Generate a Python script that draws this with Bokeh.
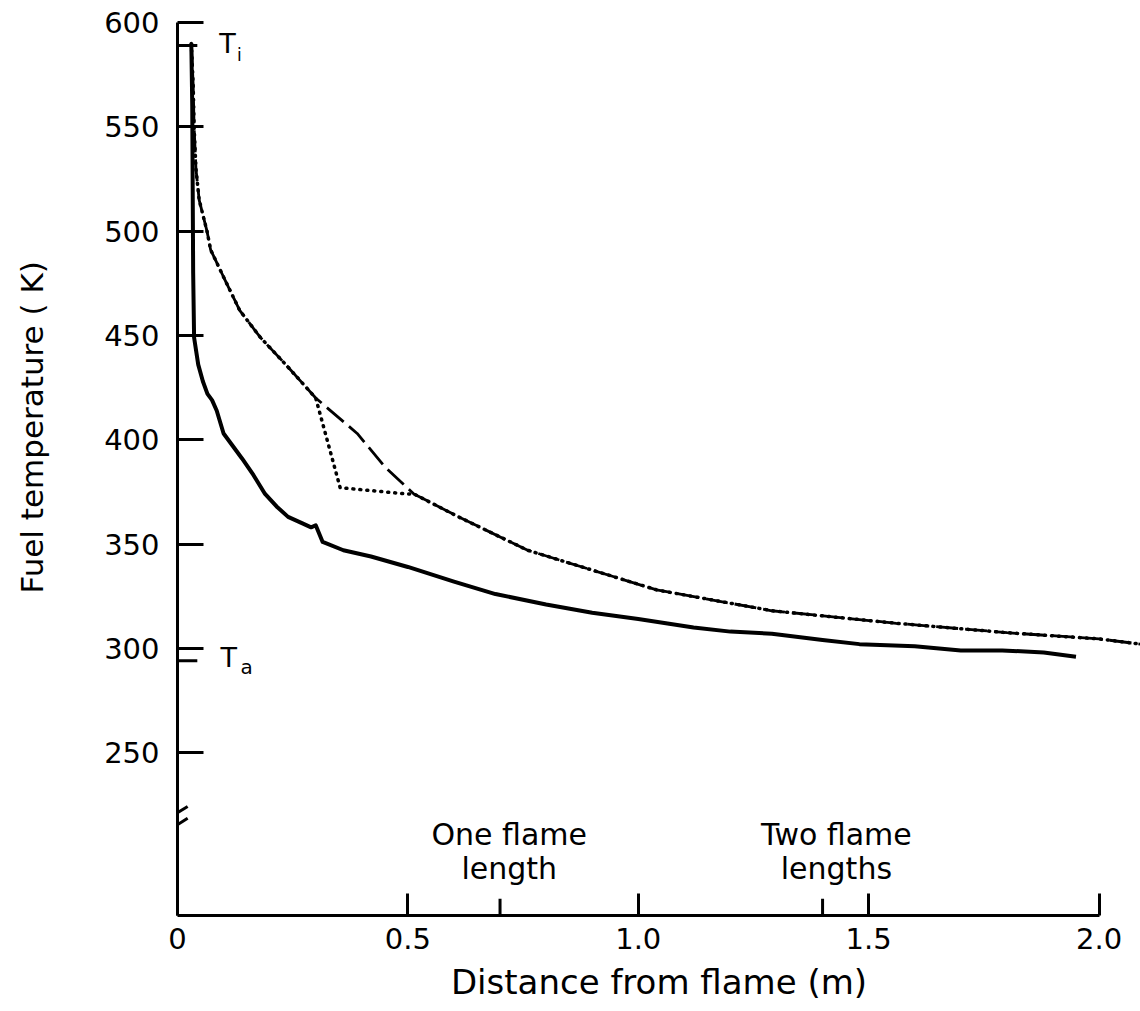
from bokeh.plotting import figure
from bokeh.models import FixedTicker, Range1d, LinearAxis, CustomJSTickFormatter, Title
from bokeh.core.properties import value
from bokeh.embed import file_html
from bokeh.resources import INLINE

FONT = "DejaVu Sans"

# Measured fuel temperature (solid curve)
dist_measured = [0.030, 0.032, 0.033, 0.034, 0.036, 0.045, 0.055, 0.065, 0.075, 0.085,
                 0.10, 0.12, 0.14, 0.165, 0.19, 0.215, 0.24, 0.27, 0.29, 0.30,
                 0.315, 0.36, 0.42, 0.50, 0.60, 0.69, 0.80, 0.90, 1.00, 1.06,
                 1.12, 1.20, 1.29, 1.40, 1.48, 1.60, 1.70, 1.79, 1.88, 1.95]
temp_measured = [590, 560, 520, 480, 449, 436, 428, 422, 419, 414,
                 403, 397, 391, 383, 374, 368, 363, 360, 358, 359,
                 351, 347, 344, 339, 332, 326, 321, 317, 314, 312,
                 310, 308, 307, 304, 302, 301, 299, 299, 298, 296]

# Predicted temperature (long dashes)
dist_pred = [0.030, 0.034, 0.036, 0.040, 0.047, 0.064, 0.072, 0.10, 0.135, 0.18,
             0.235, 0.30, 0.39, 0.45, 0.513, 0.61, 0.76, 1.04, 1.29, 1.56,
             1.80, 2.00, 2.09]
temp_pred = [590, 570, 550, 530, 515, 500, 491, 478, 462, 449,
             436, 420, 403, 387, 374, 363, 347, 328, 318, 312,
             307.5, 304.5, 302]

# Predicted temperature, alternative case (dotted)
dist_alt = [0.030, 0.034, 0.036, 0.040, 0.047, 0.064, 0.072, 0.10, 0.135, 0.18,
            0.235, 0.30, 0.353, 0.498, 0.513, 0.61, 0.76, 1.04, 1.29, 1.56,
            1.80, 2.00, 2.09]
temp_alt = [590, 570, 550, 530, 515, 500, 491, 478, 462, 449,
            436, 420, 377, 374, 374, 363, 347, 328, 318, 312,
            307.5, 304.5, 302]

x_ticks = [0, 0.5, 1.0, 1.5, 2.0]
y_ticks = [250, 300, 350, 400, 450, 500, 550, 600]
flame_marks = [0.7, 1.4]
flame_top = ["One flame", "Two flame"]
flame_bottom = ["length", "lengths"]
flame_label_x = [0.72, 1.43]
T_i = 589
T_a = 294

Y_BOTTOM = 171.9

p = figure(
    frame_width=963, frame_height=894,
    min_border_left=177, min_border_right=0, min_border_top=21, min_border_bottom=96,
    x_range=Range1d(0, 2.09), y_range=Range1d(Y_BOTTOM, 600.5),
    output_backend="svg", toolbar_location=None,
    background_fill_color="white", border_fill_color="white",
)
p.outline_line_color = None
p.grid.visible = False

# axes: ticks point inward, as in the original drawing
for ax in (p.xaxis[0], p.yaxis[0]):
    ax.axis_line_width = 3
    ax.axis_line_color = "black"
    ax.major_tick_line_width = 3
    ax.major_tick_line_color = "black"
    ax.major_tick_out = 0
    ax.minor_tick_line_color = None
    ax.major_label_text_font = FONT
    ax.major_label_text_font_size = "29px"
    ax.major_label_text_color = "black"

p.xaxis.ticker = FixedTicker(ticks=x_ticks)
p.xaxis.formatter = CustomJSTickFormatter(code="return tick == 0 ? '0' : tick.toFixed(1);")
p.xaxis.bounds = (0, 2.0)
p.xaxis.major_tick_in = 22
p.xaxis.major_label_standoff = 12
p.xaxis.axis_label = "Distance from flame (m)"
p.xaxis.axis_label_text_font = FONT
p.xaxis.axis_label_text_font_size = "34px"
p.xaxis.axis_label_text_font_style = "normal"
p.xaxis.axis_label_text_color = "black"
p.xaxis.axis_label_standoff = 10

p.yaxis.ticker = FixedTicker(ticks=y_ticks)
p.yaxis.bounds = (Y_BOTTOM, 600)
p.yaxis.major_tick_in = 26
p.yaxis.major_label_standoff = 18

# blank spacer axis (one unlabeled white tick), then the temperature title further out
spacer = LinearAxis(
    ticker=FixedTicker(ticks=[400]), formatter=CustomJSTickFormatter(code="return '';"),
    axis_line_color=None, major_tick_line_color="white", minor_tick_line_color=None,
    major_tick_in=0, major_tick_out=50, minor_tick_in=0, minor_tick_out=0,
    major_label_standoff=0,
)
p.add_layout(spacer, "left")
p.add_layout(Title(text="Fuel temperature ( K)", align="left", offset=322,
                   vertical_align="top", standoff=0, text_font=FONT,
                   text_font_size="31px", text_font_style="normal",
                   text_color="black"), "left")

# curves
p.line(dist_alt, temp_alt, line_color="black", line_width=3.5, line_dash="1 6", line_cap="round")
p.line(dist_pred, temp_pred, line_color="black", line_width=2.8, line_dash="22 7")
p.line(dist_measured, temp_measured, line_color="black", line_width=4, line_join="round")

# T_i / T_a markers on the temperature axis
p.segment(x0=[0, 0], y0=[T_i, T_a], x1=[0.043, 0.043], y1=[T_i, T_a],
          line_color="black", line_width=3)
p.text(x=[0.1085], y=[T_i + 1], text=["T"], text_font=value(FONT), text_font_size="27px",
       text_align="center", text_baseline="middle", text_color="black")
p.text(x=[0.134], y=[T_i - 4.5], text=["i"], text_font=value(FONT), text_font_size="17px",
       text_align="center", text_baseline="middle", text_color="black")
p.text(x=[0.111], y=[T_a + 1.5], text=["T"], text_font=value(FONT), text_font_size="27px",
       text_align="center", text_baseline="middle", text_color="black")
p.text(x=[0.150], y=[T_a - 3], text=["a"], text_font=value(FONT), text_font_size="20px",
       text_align="center", text_baseline="middle", text_color="black")

# flame-length markers on the distance axis
p.segment(x0=flame_marks, y0=[Y_BOTTOM] * 2, x1=flame_marks, y1=[Y_BOTTOM + 8] * 2,
          line_color="black", line_width=3)
p.text(x=flame_label_x, y=[210.5] * 2, text=flame_top, text_font=value(FONT),
       text_font_size="30px", text_align="center", text_baseline="middle", text_color="black")
p.text(x=flame_label_x, y=[194.5] * 2, text=flame_bottom, text_font=value(FONT),
       text_font_size="30px", text_align="center", text_baseline="middle", text_color="black")

# axis break
p.segment(x0=[-0.02, -0.02], y0=[218.4, 212.7], x1=[0.022, 0.022], y1=[224.2, 218.5],
          line_color="black", line_width=3)

open("out.html", "w").write(file_html(p, INLINE))
